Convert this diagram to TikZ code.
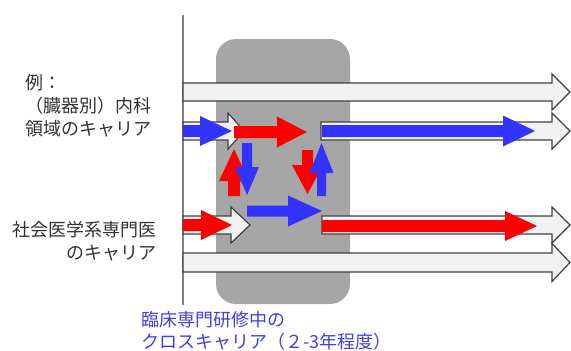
\documentclass[tikz,border=0pt]{standalone}
\usepackage{fontspec}
\newfontfamily\jp{Noto Sans CJK JP}
\definecolor{arrred}{RGB}{255,0,0}
\definecolor{arrblue}{RGB}{51,51,255}
\definecolor{boxgray}{RGB}{166,166,166}
\definecolor{wfill}{RGB}{242,242,242}
\definecolor{wline}{RGB}{64,64,64}
\definecolor{txtgray}{RGB}{51,51,51}
\definecolor{txtblue}{RGB}{64,64,230}
\definecolor{axisgray}{RGB}{128,128,128}
% horizontal block arrow: style, x start, x tip, y centre, shaft half, head half, head length
\newcommand{\hfat}[7]{\path[#1] (#2,#4-#5) -- (#3-#7,#4-#5) -- (#3-#7,#4-#6) -- (#3,#4) -- (#3-#7,#4+#6) -- (#3-#7,#4+#5) -- (#2,#4+#5) -- cycle;}
% downward block arrow: style, x centre, y top, y tip, shaft half, head half, head length
\newcommand{\vdn}[7]{\path[#1] (#2-#5,#3) -- (#2+#5,#3) -- (#2+#5,#4-#7) -- (#2+#6,#4-#7) -- (#2,#4) -- (#2-#6,#4-#7) -- (#2-#5,#4-#7) -- cycle;}
% upward block arrow: style, x centre, y bottom, y tip, shaft half, head half, head length
\newcommand{\vup}[7]{\path[#1] (#2-#5,#3) -- (#2+#5,#3) -- (#2+#5,#4+#7) -- (#2+#6,#4+#7) -- (#2,#4) -- (#2-#6,#4+#7) -- (#2-#5,#4+#7) -- cycle;}
\tikzset{
  whitearrow/.style={fill=wfill, draw=wline, line width=1.2pt, line join=miter},
  redarrow/.style={fill=arrred},
  bluearrow/.style={fill=arrblue},
  lbl/.style={inner sep=0pt, font=\jp\fontsize{18}{23}\selectfont, text=txtgray},
}
\begin{document}
\begin{tikzpicture}[x=1pt,y=-1pt]
\useasboundingbox (0,0) rectangle (571,351);
% gray band
\fill[boxgray, rounded corners=20pt] (216,39) rectangle (350,304);
% axis line
\draw[axisgray, line width=1.5pt] (183,15) -- (183,305);
% white career arrows
\hfat{whitearrow}{183}{570}{92}{9}{18}{18}
\hfat{whitearrow}{183}{244}{131}{9}{18}{16}
\hfat{whitearrow}{321}{570}{131}{9}{18}{18}
\hfat{whitearrow}{183}{250}{225}{9}{18}{19}
\hfat{whitearrow}{322}{570}{225}{9}{18}{18}
\hfat{whitearrow}{183}{570}{262.5}{9.5}{19}{18}
% coloured arrows
\hfat{bluearrow}{183}{232}{131}{6}{15}{32}
\hfat{redarrow}{234}{307}{132}{6}{15.5}{30}
\hfat{bluearrow}{322}{535}{131}{6}{15.5}{32}
\hfat{redarrow}{183}{232}{225}{6}{15}{31}
\hfat{bluearrow}{247}{322}{211}{5.5}{15.5}{34}
\hfat{redarrow}{322}{537}{226}{6}{15}{32}
\vup{redarrow}{234}{196}{149}{6}{15}{32}
\vdn{bluearrow}{247}{143}{195}{5}{12}{28}
\vdn{redarrow}{307.5}{150}{194}{5.5}{15.5}{29}
\vup{bluearrow}{321.5}{196}{143}{4.5}{12}{30}
% labels
\node[lbl, align=left, anchor=west] (ex) at (25,106) {例：\\（臓器別）内科\\領域のキャリア};
\node[lbl, align=right, anchor=east] (soc) at (157,241.5) {社会医学系専門医\\のキャリア};
\node[lbl, align=left, anchor=west, text=txtblue, font=\jp\fontsize{18}{22}\selectfont] (cross) at (141,331) {臨床専門研修中の\\クロスキャリア（２-3年程度）};
\end{tikzpicture}
\end{document}
